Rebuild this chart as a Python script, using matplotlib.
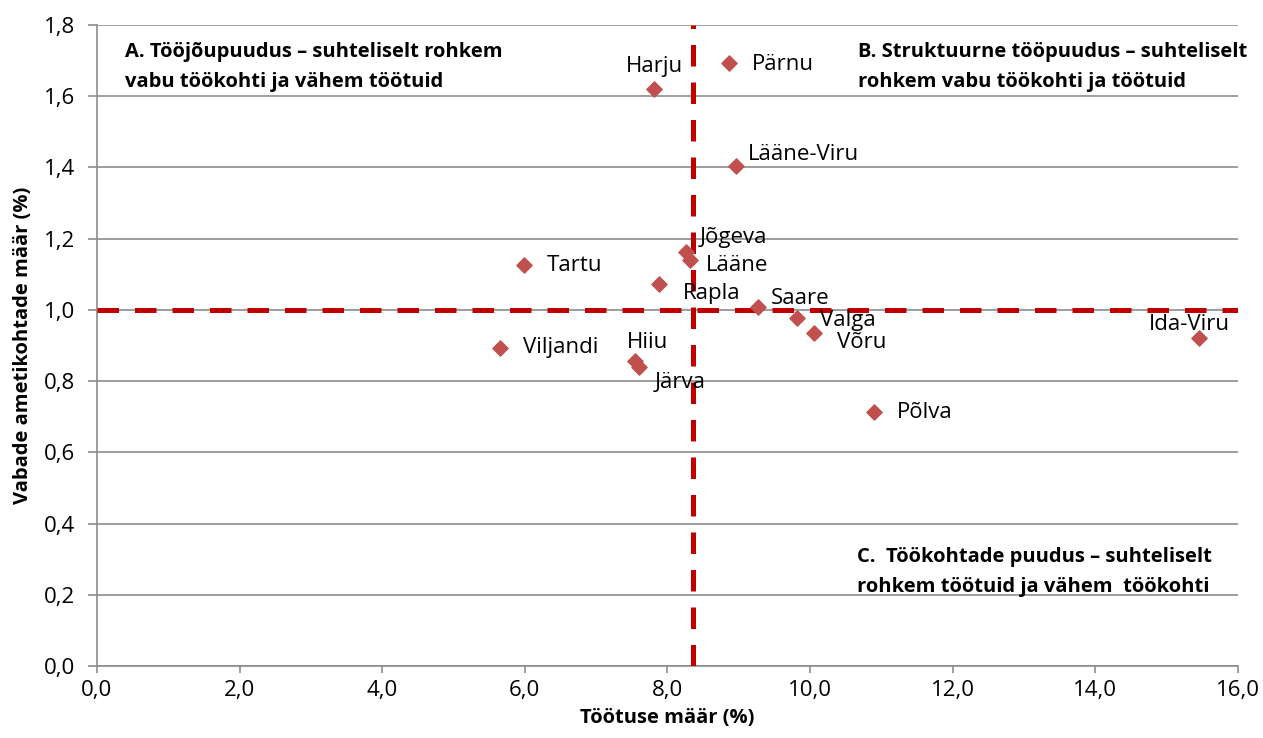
import matplotlib
matplotlib.use("Agg")
import matplotlib.pyplot as plt

plt.rcParams['font.family'] = ['Open Sans', 'DejaVu Sans']

counties = ["Harju", "Pärnu", "Lääne-Viru", "Jõgeva", "Lääne", "Tartu", "Rapla",
            "Saare", "Valga", "Võru", "Ida-Viru", "Põlva", "Viljandi", "Hiiu", "Järva"]
unemployment = [7.81, 8.86, 8.96, 8.26, 8.32, 5.99, 7.88,
                9.27, 9.82, 10.05, 15.45, 10.90, 5.65, 7.54, 7.60]
vacancy = [1.62, 1.693, 1.404, 1.163, 1.14, 1.126, 1.073,
           1.008, 0.977, 0.935, 0.921, 0.713, 0.893, 0.856, 0.840]
# label offsets in points
offsets = [(0, 16), (16.5, -1), (8.6, 8.6), (10, 10), (11.5, -3.6), (16.5, 0), (17, -7),
           (9.4, 6.5), (16.5, -2), (17, -6.5), (-6.5, 9.4), (16, 0), (16.5, 0), (9.4, 13.7), (30, -11)]
ha = ["center", "left", "left", "left", "left", "left", "left",
      "left", "left", "left", "center", "left", "left", "center", "center"]

x_ticks = [0, 2, 4, 6, 8, 10, 12, 14, 16]
y_ticks = [0.0, 0.2, 0.4, 0.6, 0.8, 1.0, 1.2, 1.4, 1.6, 1.8]
avg_unemployment = 8.36
avg_vacancy = 1.0

fig = plt.figure(figsize=(12.63, 7.38), dpi=100)
ax = fig.add_axes([0.0768, 0.0976, 0.9034, 0.8685])
ax.set_xlim(0, 16)
ax.set_ylim(0, 1.8)

ax.set_yticks(y_ticks)
ax.set_yticklabels([f"{v:.1f}".replace(".", ",") for v in y_ticks], fontsize=16)
ax.set_xticks(x_ticks)
ax.set_xticklabels([f"{v:.1f}".replace(".", ",") for v in x_ticks], fontsize=16)
ax.grid(axis="y", color="#8c8c8c", lw=1.2)
ax.set_axisbelow(True)
for s in ["top", "right"]:
    ax.spines[s].set_visible(False)
for s in ["left", "bottom"]:
    ax.spines[s].set_color("#8c8c8c")
    ax.spines[s].set_linewidth(1.2)
ax.tick_params(axis="x", color="#8c8c8c", length=5, width=1.2, direction="out", pad=5)
ax.tick_params(axis="y", color="#8c8c8c", length=6.5, width=1.2, direction="out", pad=9)

ax.axhline(avg_vacancy, color="#C00000", lw=3.6, dashes=(4.3, 3.2), zorder=3)
ax.axvline(avg_unemployment, color="#C00000", lw=3.6, dashes=(4.3, 3.2), zorder=3)

ax.scatter(unemployment, vacancy, marker="D", s=60, color="#C0504D", zorder=4)
for name, x, y, off, h in zip(counties, unemployment, vacancy, offsets, ha):
    ax.annotate(name, (x, y), xytext=off, textcoords="offset points",
                ha=h, va="center", fontsize=16, zorder=5)

ax.set_xlabel("Töötuse määr (%)", fontsize=14.5, fontweight="bold", labelpad=5)
ax.set_ylabel("Vabade ametikohtade määr (%)", fontsize=14.5, fontweight="bold", labelpad=8)

bold = dict(transform=ax.transAxes, fontsize=14.5, fontweight="bold", va="center")
ax.text(0.0245, 0.958, "A. Tööjõupuudus – suhteliselt rohkem", **bold)
ax.text(0.0245, 0.911, "vabu töökohti ja vähem töötuid", **bold)
ax.text(0.667, 0.958, "B. Struktuurne tööpuudus – suhteliselt", **bold)
ax.text(0.667, 0.911, "rohkem vabu töökohti ja töötuid", **bold)
ax.text(0.666, 0.170, "C.  Töökohtade puudus – suhteliselt", **bold)
ax.text(0.666, 0.123, "rohkem töötuid ja vähem  töökohti", **bold)

fig.savefig("out.png", dpi=100)
